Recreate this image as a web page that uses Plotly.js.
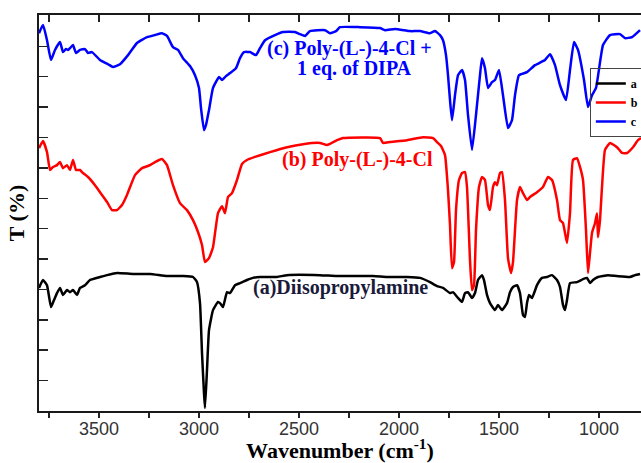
<!DOCTYPE html>
<html><head><meta charset="utf-8">
<script src="https://cdn.plot.ly/plotly-3.0.1.min.js"></script>
<style>html,body{margin:0;padding:0;background:#fff}</style>
</head><body><div id="chart" style="width:641px;height:463px"></div>
<script>
// (a) Diisopropylamine
const wnA = [3800,3780,3760,3740,3725,3710,3695,3680,3660,3645,
  3630,3610,3595,3570,3545,3495,3460,3410,3330,3245,
  3160,3080,3030,3010,2995,2985,2975,2970,2960,2950,
  2930,2905,2895,2880,2860,2845,2820,2795,2760,2730,
  2695,2610,2560,2395,2310,2130,2060,1960,1895,1845,
  1810,1780,1745,1730,1705,1685,1670,1655,1635,1620,
  1605,1585,1575,1560,1545,1520,1505,1485,1460,1445,
  1430,1410,1395,1380,1370,1360,1350,1335,1310,1285,
  1260,1235,1210,1195,1180,1170,1160,1145,1110,1080,
  1060,1045,1030,1005,955,910,845,820,795];
const tA = [40.5,43.1,41.4,34.2,36.5,38.8,40.5,38.2,39.8,39.1,
  39.8,38.2,40.5,41.4,43.1,44.1,44.7,45.4,45.1,45.1,
  44.4,44.4,44.1,42.4,35.5,19.1,5.9,1.0,13.5,26.6,
  33.2,35.9,35.5,34.2,39.1,38.8,41.4,42.1,43.1,43.8,
  44.1,44.1,44.7,44.7,44.4,44.4,44.1,44.1,43.8,42.4,
  41.1,40.5,38.8,39.1,37.2,35.9,38.8,39.1,37.2,38.8,
  43.1,44.7,43.1,38.2,35.5,33.2,34.9,33.2,35.5,39.1,
  40.8,41.4,38.8,31.6,30.9,35.5,38.2,37.2,41.4,43.8,
  44.1,44.7,43.1,40.8,34.9,33.2,36.5,42.1,42.4,43.4,
  43.8,42.1,43.1,44.1,44.7,44.4,44.1,44.7,45.1];

// (b) Poly-(L-)-4-Cl
const wnB = [3800,3780,3760,3745,3730,3710,3695,3680,3660,3645,
  3630,3615,3595,3580,3555,3520,3495,3460,3435,3410,
  3385,3360,3320,3285,3245,3220,3185,3160,3130,3095,
  3060,3030,3005,2985,2970,2950,2930,2905,2885,2870,
  2855,2835,2810,2785,2760,2720,2645,2560,2480,2395,
  2360,2310,2280,2095,2080,2045,1960,1880,1830,1810,
  1790,1770,1755,1745,1735,1725,1715,1700,1685,1670,
  1660,1645,1635,1625,1615,1600,1585,1570,1555,1545,
  1530,1520,1510,1495,1485,1470,1455,1440,1430,1410,
  1395,1380,1360,1345,1310,1280,1255,1235,1210,1195,
  1180,1160,1145,1130,1110,1095,1080,1065,1055,1045,
  1035,1020,1010,1005,995,985,970,945,910,885,
  860,830,805,790];
const tB = [86.5,88.8,85.2,79.3,80.3,80.9,81.9,79.9,80.9,79.3,
  82.6,79.3,79.3,78.3,77.0,74.3,72.0,68.8,66.1,66.1,
  67.8,71.1,77.6,79.9,80.9,81.9,82.9,80.9,74.3,68.4,
  66.1,62.8,58.9,54.6,49.0,50.3,53.9,65.1,67.4,65.1,
  70.4,71.7,76.0,81.3,82.6,83.6,85.2,86.8,87.8,88.2,
  87.5,89.1,89.8,89.8,88.2,88.5,89.1,90.1,89.8,88.5,
  87.2,84.2,72.7,61.2,47.0,49.0,66.1,76.0,78.3,78.6,
  73.7,49.7,39.8,41.4,59.5,73.7,77.0,76.0,67.8,66.1,
  73.7,75.3,74.3,78.3,78.6,69.4,50.3,45.4,49.0,69.4,
  73.7,71.7,69.4,70.4,72.0,73.7,77.0,76.0,69.4,62.8,
  61.8,55.3,65.1,82.6,83.2,80.3,76.0,59.5,45.4,52.0,
  58.6,61.8,65.1,57.2,62.8,73.7,85.9,88.2,86.8,84.9,
  84.9,86.8,89.1,89.8];

// (c) Poly-(L-)-4-Cl + 1 eq. of DIPA
const wnC = [3800,3780,3760,3740,3720,3695,3680,3665,3655,3645,
  3630,3615,3595,3570,3555,3535,3495,3455,3430,3395,
  3355,3310,3260,3220,3185,3160,3130,3105,3080,3045,
  3020,3000,2990,2975,2965,2950,2930,2900,2885,2865,
  2845,2815,2795,2775,2745,2715,2695,2670,2620,2580,
  2520,2495,2470,2445,2370,2345,2315,2295,2195,2095,
  2070,2020,1945,1895,1845,1820,1795,1780,1765,1755,
  1745,1735,1720,1705,1685,1670,1655,1635,1615,1595,
  1585,1570,1555,1535,1520,1500,1480,1455,1435,1420,
  1400,1360,1320,1270,1245,1220,1195,1165,1145,1125,
  1105,1075,1055,1035,1015,980,945,895,870,835,795];
const tC = [124.3,127.0,122.0,115.5,118.8,121.4,118.1,119.1,118.8,119.4,
  120.4,117.8,118.8,119.1,117.8,118.1,115.5,114.1,113.2,114.1,
  117.1,121.1,123.0,123.7,124.3,123.4,119.7,118.8,116.1,113.5,
  110.5,106.3,99.7,92.4,94.1,99.0,106.3,109.9,108.9,110.2,
  111.2,112.8,116.1,118.1,118.1,117.1,119.4,122.0,123.7,124.7,
  124.7,124.0,123.4,125.0,125.3,124.3,125.0,126.3,126.3,126.0,
  125.3,125.7,125.0,125.0,124.3,125.0,123.7,122.0,117.1,110.5,
  102.3,95.7,103.9,110.5,112.2,108.9,97.4,85.9,97.4,110.5,
  116.1,112.8,106.3,108.2,108.9,112.2,103.9,93.1,95.7,103.9,
  110.5,111.5,113.8,115.5,117.4,113.8,107.2,102.3,112.2,121.4,
  118.8,108.9,100.0,103.9,106.3,120.4,123.7,124.0,122.7,123.0,125.3];

const seriesNames = ['a', 'b', 'c'];
const seriesColors = ['#000000', '#ff0000', '#0000ff'];
const xTickVals = [1000, 1500, 2000, 2500, 3000, 3500];
const yTickVals = [10, 20, 30, 40, 50, 60, 70, 80, 90, 100, 110, 120];
const labelTexts = ['(a)Diisopropylamine', '(b) Poly-(L-)-4-Cl', '(c) Poly-(L-)-4-Cl +', '1 eq. of DIPA'];

const serif = 'Liberation Serif, Times New Roman, serif';
const xs = [wnA, wnB, wnC], ys = [tA, tB, tC];
const traces = xs.map((x, i) => ({
  x: x, y: ys[i], type: 'scatter', mode: 'lines', name: seriesNames[i],
  line: {color: seriesColors[i], width: 2.5, shape: 'spline', smoothing: 0.4},
  hoverinfo: 'skip'
}));
traces.push({x: [], y: [], xaxis: 'x2', yaxis: 'y', type: 'scatter', mode: 'lines', showlegend: false, hoverinfo: 'skip'});

const xRange = [3800, 790];
const layout = {
  width: 641, height: 463,
  margin: {l: 39, r: 0, t: 15, b: 52, autoexpand: false},
  paper_bgcolor: '#ffffff', plot_bgcolor: '#ffffff',
  showlegend: true,
  xaxis: {
    range: xRange, showgrid: false, zeroline: false,
    showline: true, linecolor: '#1a1a1a', linewidth: 2,
    tickvals: xTickVals, ticks: 'outside', ticklen: 5, tickwidth: 1.5, tickcolor: '#222',
    ticklabelstandoff: -5,
    minor: {dtick: 250, tick0: 0, ticks: 'outside', ticklen: 5, tickwidth: 1.5, tickcolor: '#222'},
    tickfont: {family: 'Liberation Sans, Arial, sans-serif', size: 18, color: '#333'},
    title: {text: '<b>Wavenumber (cm<sup>-1</sup>)</b>', font: {family: serif, size: 22, color: '#000'}, standoff: 0}
  },
  xaxis2: {
    range: xRange, overlaying: 'x', side: 'top', anchor: 'y',
    showgrid: false, zeroline: false, showticklabels: false,
    showline: true, linecolor: '#1a1a1a', linewidth: 2,
    dtick: 250, tick0: 0, ticks: 'inside', ticklen: 7, tickwidth: 1.5, tickcolor: '#222'
  },
  yaxis: {
    range: [0, 130.3], showgrid: false, zeroline: false,
    showline: true, linecolor: '#1a1a1a', linewidth: 2,
    tickvals: yTickVals, ticks: 'inside', ticklen: 9, tickwidth: 1.5, tickcolor: '#222',
    showticklabels: false,
    title: {text: '<b>T (%)</b>', font: {family: serif, size: 22, color: '#000'}, standoff: 6}
  },
  legend: {
    x: 0.915, y: 0.866, xanchor: 'left', yanchor: 'top',
    bgcolor: 'rgba(0,0,0,0)', bordercolor: '#444', borderwidth: 1,
    font: {family: serif, size: 12, color: '#000', weight: 'bold'},
    tracegroupgap: 0
  },
  annotations: [
    {x: 2292, y: 40.5, xref: 'x', yref: 'y', text: '<b>' + labelTexts[0] + '</b>', showarrow: false,
     font: {family: serif, size: 20, color: '#1a1a3a'}, xanchor: 'center', yanchor: 'middle'},
    {x: 2207, y: 82.9, xref: 'x', yref: 'y', text: '<b>' + labelTexts[1] + '</b>', showarrow: false,
     font: {family: serif, size: 20, color: '#ff0000'}, xanchor: 'center', yanchor: 'middle'},
    {x: 2250, y: 119.4, xref: 'x', yref: 'y', text: '<b>' + labelTexts[2] + '</b>', showarrow: false,
     font: {family: serif, size: 20, color: '#0000ff'}, xanchor: 'center', yanchor: 'middle'},
    {x: 2225, y: 112.8, xref: 'x', yref: 'y', text: '<b>' + labelTexts[3] + '</b>', showarrow: false,
     font: {family: serif, size: 20, color: '#0000ff'}, xanchor: 'center', yanchor: 'middle'}
  ]
};
Plotly.newPlot('chart', traces, layout, {staticPlot: true, displayModeBar: false});
</script>
</body></html>
